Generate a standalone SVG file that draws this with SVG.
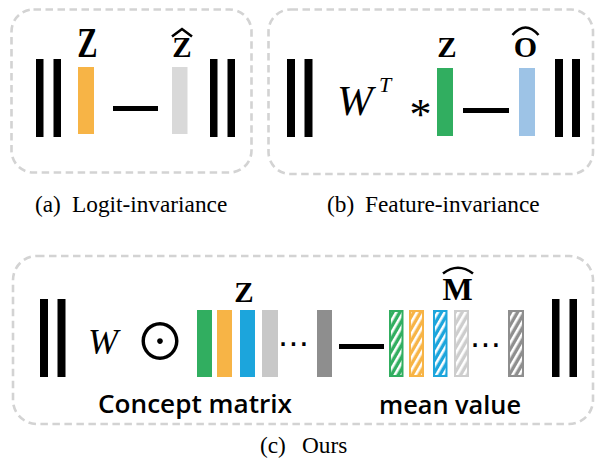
<svg xmlns="http://www.w3.org/2000/svg" width="596" height="460" viewBox="0 0 596 460">
<style>
.box{fill:none;stroke:#D3D3D3;stroke-width:2.6;stroke-dasharray:7.5 4.5}
.blk{fill:#000}
.lbl{font-family:"Liberation Serif",serif;font-weight:bold;fill:#000}
.mi{font-family:"Liberation Serif",serif;font-style:italic;fill:#000}
.cap{font-family:"Liberation Serif",serif;font-size:23.3px;fill:#000}
.sb{font-family:"Open Sans","DejaVu Sans",sans-serif;font-weight:600;font-size:25px;fill:#000}
.hat{fill:none;stroke:#000;stroke-width:2.6;stroke-linejoin:miter}
.sym{font-family:"DejaVu Sans",sans-serif;fill:#000}
.odot{font-family:"Noto Sans CJK SC","DejaVu Sans",sans-serif;fill:#000}
</style>
<defs>
<pattern id="hG" width="6" height="6" patternUnits="userSpaceOnUse" patternTransform="rotate(30)"><rect width="6" height="6" fill="#31AE60"/><rect width="2.6" height="6" fill="#fff"/></pattern>
<pattern id="hO" width="6" height="6" patternUnits="userSpaceOnUse" patternTransform="rotate(30)"><rect width="6" height="6" fill="#F7B446"/><rect width="2.6" height="6" fill="#fff"/></pattern>
<pattern id="hB" width="6" height="6" patternUnits="userSpaceOnUse" patternTransform="rotate(30)"><rect width="6" height="6" fill="#1CA5DC"/><rect width="2.6" height="6" fill="#fff"/></pattern>
<pattern id="hL" width="6" height="6" patternUnits="userSpaceOnUse" patternTransform="rotate(30)"><rect width="6" height="6" fill="#CDCDCD"/><rect width="2.6" height="6" fill="#fff"/></pattern>
<pattern id="hD" width="6" height="6" patternUnits="userSpaceOnUse" patternTransform="rotate(30)"><rect width="6" height="6" fill="#8E8E8E"/><rect width="2.6" height="6" fill="#fff"/></pattern>
</defs>

<!-- Panel (a) -->
<g id="panel-a">
<rect class="box" x="11.5" y="9.5" width="240" height="163" rx="22"/>
<rect class="blk" x="36" y="59" width="7.5" height="78"/>
<rect class="blk" x="53.5" y="59" width="7.5" height="78"/>
<rect x="78" y="67" width="16" height="67" fill="#F7B446"/>
<text class="lbl" font-size="29" text-anchor="middle" transform="translate(87.5,57) scale(1.05,1.45)">Z</text>
<rect class="blk" x="113" y="106" width="45" height="5"/>
<rect x="172" y="67" width="15.5" height="67" fill="#D9D9D9"/>
<text class="lbl" font-size="29" text-anchor="middle" x="182" y="57">Z</text>
<polyline class="hat" points="172,36.5 182,29 192,36.5"/>
<rect class="blk" x="210" y="59" width="7.5" height="78"/>
<rect class="blk" x="227.5" y="59" width="7.5" height="78"/>
</g>

<!-- Panel (b) -->
<g id="panel-b">
<rect class="box" x="268.5" y="9.5" width="324.5" height="164.5" rx="22"/>
<rect class="blk" x="287" y="59" width="8" height="78"/>
<rect class="blk" x="304.5" y="59" width="8" height="78"/>
<text class="mi" font-size="43" x="337" y="115">W</text>
<text class="mi" font-size="22" x="379" y="92">T</text>
<text font-family="Liberation Serif,serif" font-size="44" text-anchor="middle" x="420.5" y="129">*</text>
<rect x="437" y="68" width="16" height="68" fill="#31AE60"/>
<text class="lbl" font-size="29" text-anchor="middle" x="447" y="57">Z</text>
<rect class="blk" x="463" y="108" width="46" height="5"/>
<rect x="519" y="68" width="16" height="68" fill="#9DC3E6"/>
<text class="lbl" font-size="30" text-anchor="middle" x="525.5" y="57">O</text>
<path class="hat" d="M512.5,35 Q525.5,20 538.5,35"/>
<rect class="blk" x="555" y="59" width="8" height="78"/>
<rect class="blk" x="572" y="59" width="8" height="78"/>
</g>

<!-- Captions (a), (b) -->
<text class="cap" x="35" y="212">(a)<tspan x="72">Logit-invariance</tspan></text>
<text class="cap" x="327" y="212">(b)<tspan x="365">Feature-invariance</tspan></text>

<!-- Panel (c) -->
<g id="panel-c">
<rect class="box" x="13" y="256" width="580" height="168" rx="24"/>
<rect class="blk" x="40" y="299" width="8" height="78"/>
<rect class="blk" x="57.5" y="299" width="8" height="78"/>
<text class="mi" font-size="36" x="88" y="353.5">W</text>
<text class="odot" font-size="50" text-anchor="middle" x="160" y="360">⊙</text>
<g id="concept-matrix">
<rect x="197" y="310" width="15" height="67" fill="#31AE60"/>
<rect x="217" y="310" width="15" height="67" fill="#F7B446"/>
<rect x="240" y="310" width="15" height="67" fill="#1CA5DC"/>
<rect x="262" y="310" width="16" height="67" fill="#C8C8C8"/>
<text class="sym" font-size="31.5" text-anchor="middle" x="293.5" y="354">⋯</text>
<rect x="317" y="310" width="15" height="67" fill="#8E8E8E"/>
<text class="lbl" font-size="29" text-anchor="middle" x="244" y="302">Z</text>
</g>
<rect class="blk" x="339" y="344" width="45" height="5"/>
<g id="mean-value">
<rect x="390" y="311" width="12.5" height="65" fill="url(#hG)" stroke="#31AE60" stroke-width="2"/>
<rect x="410" y="311" width="13" height="65" fill="url(#hO)" stroke="#F7B446" stroke-width="2"/>
<rect x="434" y="311" width="12.5" height="65" fill="url(#hB)" stroke="#1CA5DC" stroke-width="2"/>
<rect x="455" y="311" width="13" height="65" fill="url(#hL)" stroke="#CDCDCD" stroke-width="2"/>
<text class="sym" font-size="31.5" text-anchor="middle" x="485.5" y="355">⋯</text>
<rect x="509" y="311" width="14" height="65" fill="url(#hD)" stroke="#8E8E8E" stroke-width="2"/>
<text class="lbl" font-size="32" text-anchor="middle" x="457.5" y="300">M</text>
<path class="hat" d="M443,273.5 Q458,262 473,273.5"/>
</g>
<rect class="blk" x="552" y="299" width="7.5" height="78"/>
<rect class="blk" x="569.5" y="299" width="7.5" height="78"/>
<text class="sb" x="98" y="413" textLength="194" lengthAdjust="spacingAndGlyphs">Concept matrix</text>
<text class="sb" x="379" y="414" textLength="142" lengthAdjust="spacingAndGlyphs">mean value</text>
</g>

<text class="cap" x="260" y="453">(c)<tspan x="302">Ours</tspan></text>
</svg>
